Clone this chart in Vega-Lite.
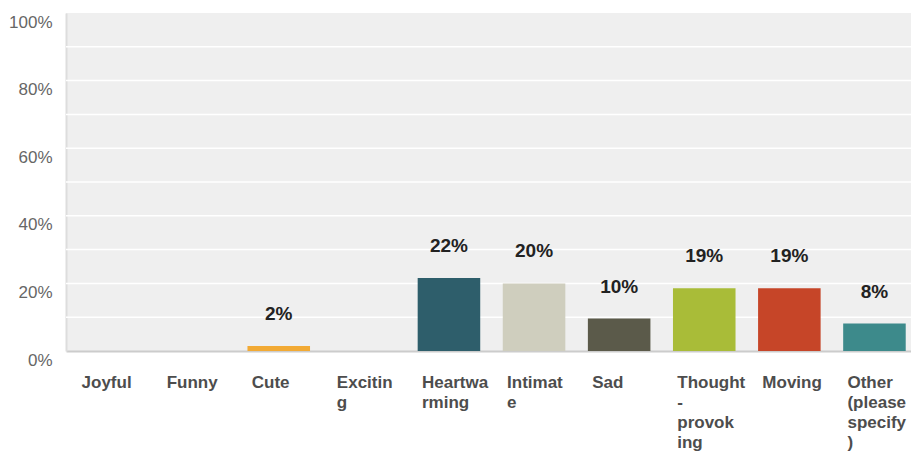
{
  "$schema": "https://vega.github.io/schema/vega-lite/v6.json",
  "autosize": {"type": "none"},
  "padding": {"left": 66, "top": 13, "right": 0, "bottom": 101},
  "width": 851,
  "height": 338,
  "background": "white",
  "config": {
    "view": {"fill": "#efefef", "stroke": null},
    "font": "Liberation Sans"
  },
  "data": {
    "values": [
      {"option": "Joyful", "share": 0, "color": "#f0a830"},
      {"option": "Funny", "share": 0, "color": "#f0a830"},
      {"option": "Cute", "share": 0.015, "color": "#f2aa35"},
      {"option": "Exciting", "share": 0, "color": "#f0a830"},
      {"option": "Heartwarming", "share": 0.216, "color": "#2e5e6b"},
      {"option": "Intimate", "share": 0.2, "color": "#cfcebe"},
      {"option": "Sad", "share": 0.096, "color": "#5b5a4a"},
      {"option": "Thought-provoking", "share": 0.186, "color": "#a9bc38"},
      {"option": "Moving", "share": 0.186, "color": "#c64528"},
      {"option": "Other (please specify)", "share": 0.081, "color": "#3d8a8b"}
    ]
  },
  "encoding": {
    "x": {
      "field": "option",
      "type": "nominal",
      "sort": null,
      "scale": {
        "domain": ["Joyful", "Funny", "Cute", "Exciting", "Heartwarming", "Intimate", "Sad", "Thought-provoking", "Moving", "Other (please specify)"],
        "paddingInner": 0.265,
        "paddingOuter": 0.1325
      },
      "axis": {
        "title": null,
        "labelAngle": 0,
        "labelAlign": "left",
        "labelBaseline": "top",
        "labelOffset": -27,
        "labelPadding": 23,
        "labelFont": "Liberation Sans",
        "labelFontSize": 17,
        "labelFontWeight": "bold",
        "labelColor": "#4d4d4d",
        "labelLineHeight": 20,
        "labelLimit": 0,
        "ticks": false,
        "domainColor": "#cccccc",
        "domainWidth": 2,
        "labelExpr": "datum.label == 'Exciting' ? ['Excitin','g'] : datum.label == 'Heartwarming' ? ['Heartwa','rming'] : datum.label == 'Intimate' ? ['Intimat','e'] : datum.label == 'Thought-provoking' ? ['Thought','-','provok','ing'] : datum.label == 'Other (please specify)' ? ['Other','(please','specify',')'] : datum.label"
      }
    },
    "y": {
      "field": "share",
      "type": "quantitative",
      "scale": {"domain": [0, 1]},
      "axis": {
        "title": null,
        "format": ".0%",
        "values": [0, 0.2, 0.4, 0.6, 0.8, 1],
        "labelFont": "Liberation Sans",
        "labelFontSize": 17,
        "labelColor": "#666666",
        "labelPadding": 14,
        "labelOffset": 9,
        "ticks": false,
        "grid": false,
        "domainColor": "#dddddd",
        "domainWidth": 2
      }
    }
  },
  "layer": [
    {
      "mark": {"type": "rule", "color": "white", "strokeWidth": 1.5},
      "data": {"values": [{"g": 0.1}, {"g": 0.2}, {"g": 0.3}, {"g": 0.4}, {"g": 0.5}, {"g": 0.6}, {"g": 0.7}, {"g": 0.8}, {"g": 0.9}]},
      "encoding": {
        "x": null,
        "y": {"field": "g", "type": "quantitative"}
      }
    },
    {
      "transform": [{"filter": "datum.share > 0"}],
      "mark": {"type": "bar"},
      "encoding": {
        "color": {"field": "color", "type": "nominal", "scale": null}
      }
    },
    {
      "transform": [{"filter": "datum.share > 0"}],
      "mark": {"type": "text", "dy": -32, "baseline": "middle", "align": "center", "font": "Liberation Sans", "fontSize": 19, "fontWeight": "bold", "color": "#222222"},
      "encoding": {
        "text": {"field": "share", "type": "quantitative", "format": ".0%"}
      }
    }
  ]
}
